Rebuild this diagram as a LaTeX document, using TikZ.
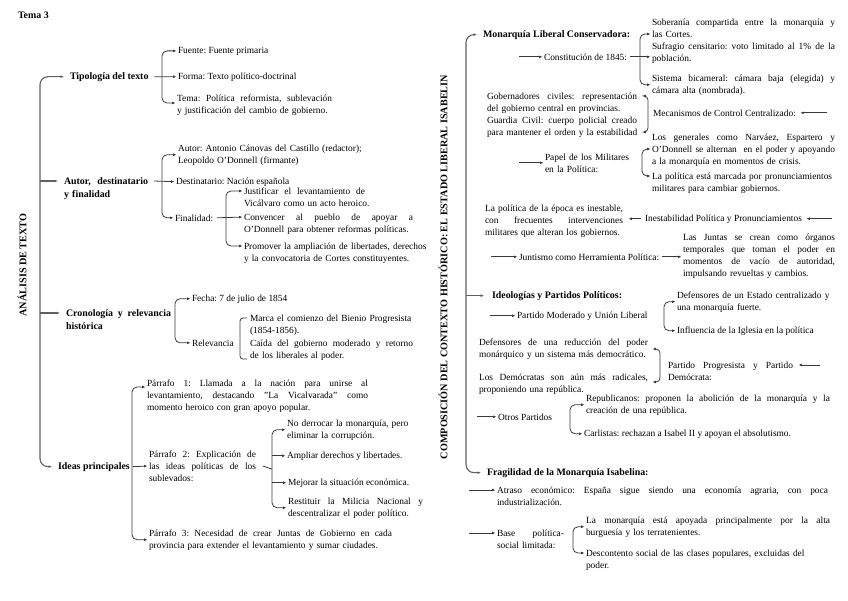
\documentclass[tikz,border=0pt]{standalone}
\usepackage{fontspec}
\setmainfont{Liberation Serif}
\usetikzlibrary{arrows.meta,calc}
\frenchspacing
\newcommand{\fs}{\fontsize{9.4}{12}\selectfont\frenchspacing}
\newcommand{\fb}{\fontsize{9.9}{13}\selectfont\bfseries\frenchspacing}
\newcommand{\fv}{\fontsize{10.2}{13}\selectfont\bfseries}
\newcommand{\jl}[2]{{\spaceskip=0pt\relax\xspaceskip=0pt\relax\makebox[#1pt][s]{#2}}}
\definecolor{linec}{HTML}{3A3A3A}
\definecolor{spinec}{HTML}{606060}
\begin{document}
\begin{tikzpicture}[x=1pt,y=-1pt,
  every node/.style={inner sep=0pt,outer sep=0pt},
  txt/.style={anchor=base west,font=\fs},
  blk/.style={anchor=base west,font=\fs,align=left,text width=#1pt},
  hd/.style={anchor=base west,font=\fb},
  vt/.style={font=\fv,rotate=90},
  ln/.style={draw=linec,line width=0.8pt},
  arr/.style={draw=linec,line width=0.8pt,-{Latex[length=3.4pt,width=2.8pt]},shorten >=1.5pt},
  sp/.style={draw=spinec,line width=1.1pt,-{Latex[length=3.4pt,width=2.8pt]},shorten >=6pt,rounded corners=8pt},
  rc/.style={rounded corners=5pt}]
\fill[white] (0,0) rectangle (848,600);
\useasboundingbox (0,0) rectangle (848,600);

% ---------------- LEFT ----------------
\node[hd] (tema) at (18,18) {Tema 3};
\node[vt] (analisis) at (22,265) {ANÁLISIS DE TEXTO};

\node[hd] (tip) at (70,79) {Tipología del texto};
\node[txt] (fuente) at (178,53) {Fuente: Fuente primaria};
\node[txt] (forma) at (178,79) {Forma: Texto político-doctrinal};
\node[blk=200] (temaT) at (177,101) {\jl{155}{Tema: Política reformista, sublevación}\\y justificación del cambio de gobierno.};

\node[hd,align=left,text width=95pt] (autorH) at (64,184) {\jl{84}{Autor, destinatario}\\y finalidad};
\node[blk=220] (autorA) at (178,151) {Autor: Antonio Cánovas del Castillo (redactor);\\Leopoldo O'Donnell (firmante)};
\node[txt] (dest) at (176,184) {Destinatario: Nación española};
\node[txt] (fin) at (175,221) {Finalidad:};
\node[blk=190] (just) at (244,194) {\jl{121}{Justificar el levantamiento de}\\Vicálvaro como un acto heroico.};
\node[blk=190] (conv) at (244,220) {\jl{169}{Convencer al pueblo de apoyar a}\\O'Donnell para obtener reformas políticas.};
\node[blk=200] (prom) at (244,249) {Promover la ampliación de libertades, derechos\\y la convocatoria de Cortes constituyentes.};

\node[hd,align=left,text width=115pt] (crono) at (66,316) {\jl{105}{Cronología y relevancia}\\histórica};
\node[txt] (fecha) at (192,301) {Fecha: 7 de julio de 1854};
\node[txt] (relev) at (192,346) {Relevancia};
\node[blk=200] (marca) at (250,321) {Marca el comienzo del Bienio Progresista\\(1854-1856).};
\node[blk=200] (caida) at (250,346) {\jl{163}{Caída del gobierno moderado y retorno}\\de los liberales al poder.};

\node[hd] (ideas) at (58,469) {Ideas principales};
\node[blk=260] (p1) at (147,386) {\jl{221}{Párrafo 1: Llamada a la nación para unirse al}\\\jl{221}{levantamiento, destacando "La Vicalvarada" como}\\momento heroico con gran apoyo popular.};
\node[blk=150] (p2) at (149,457) {\jl{107}{Párrafo 2: Explicación de}\\\jl{107}{las ideas políticas de los}\\sublevados:};
\node[blk=280] (p3) at (149,536) {\jl{243}{Párrafo 3: Necesidad de crear Juntas de Gobierno en cada}\\provincia para extender el levantamiento y sumar ciudades.};
\node[blk=170] (nod) at (287,426) {No derrocar la monarquía, pero\\eliminar la corrupción.};
\node[txt] (ampl) at (287,458) {Ampliar derechos y libertades.};
\node[txt] (mejo) at (288,485) {Mejorar la situación económica.};
\node[blk=170] (rest) at (288,504) {\jl{135}{Restituir la Milicia Nacional y}\\descentralizar el poder político.};

% left spine
\coordinate (jL1) at (40,181);
\coordinate (jL2) at (40,313);
\draw[sp] (jL1) |- (tip.west);
\draw[sp] (jL1) |- (ideas.west);
\draw[sp,rounded corners=0pt] (jL1) -- ($(autorH.base west)+(0,-3)$);
\draw[sp,rounded corners=0pt] (jL2) -- ($(crono.base west)+(0,-3)$);

% tipologia bracket
\coordinate (bT) at (162,0);
\draw[arr] ($(tip.east)+(6,0)$) -- (forma.west);
\draw[arr,rc] (bT |- forma.west) |- (fuente.west);
\draw[arr,rc] (bT |- forma.west) |- ($(temaT.base west)+(0,2)$);

% autor bracket
\coordinate (bA) at (162,0);
\draw[arr] ($(autorH.base west)+(90,-3)$) -- (dest.west);
\draw[arr,rc] (bA |- dest.west) |- (autorA.west);
\draw[arr,rc] (bA |- dest.west) |- (fin.west);

% finalidad bracket
\coordinate (bF) at ($(conv.base west)+(-18,-3)$);
\draw[arr] ($(fin.east)+(4,0)$ |- bF) -- ($(conv.base west)+(0,-3)$);
\draw[arr,rc] (bF) |- ($(just.base west)+(0,-3)$);
\draw[arr,rc] (bF) |- ($(prom.base west)+(0,-3)$);

% cronologia bracket
\coordinate (bC) at (175,322);
\draw[arr,rc] (bC) |- (fecha.west);
\draw[arr,rc] (bC) |- (relev.west);
\draw[ln,rounded corners=3pt] ($(marca.base west)+(-3,-3)$) -- ($(marca.base west)+(-10,-3)$) -- ($(caida.base west)+(-10,13)$) -- ($(caida.base west)+(-3,13)$);

% ideas bracket
\coordinate (bI) at (132,0);
\coordinate (p2m) at ($(p2.base west)+(0,9)$);
\draw[arr] ($(ideas.east)+(3,0)$ |- p2m) -- (p2m);
\draw[arr,rc] (bI |- p2m) |- ($(p1.base west)+(0,1)$);
\draw[arr,rc] (bI |- p2m) |- (p3.west);

% parrafo 2 bracket
\coordinate (bP) at (272,469);
\draw[ln] ($(p2.base west)+(114,9)$) -- (bP);
\draw[arr,rc] (bP) |- (nod.west);
\draw[arr,rc] (bP) |- (rest.west);
\draw[arr] (bP |- ampl.west) -- (ampl.west);
\draw[arr] (bP |- mejo.west) -- (mejo.west);

% ---------------- RIGHT ----------------
\node[vt] (compos) at (443,267) {COMPOSICIÓN DEL CONTEXTO HISTÓRICO: EL ESTADO LIBERAL ISABELIN};

\node[hd] (monar) at (483,37) {Monarquía Liberal Conservadora:};
\node[txt] (const) at (544,60) {Constitución de 1845:};
\node[blk=200] (sob) at (652,25) {\jl{183}{Soberanía compartida entre la monarquía y}\\las Cortes.};
\node[blk=200] (suf) at (652,49) {\jl{183}{Sufragio censitario: voto limitado al 1\% de la}\\población.};
\node[blk=200] (sis) at (652,81) {\jl{183}{Sistema bicameral: cámara baja (elegida) y}\\cámara alta (nombrada).};
\node[blk=170] (gob) at (487,99) {\jl{150}{Gobernadores civiles: representación}\\del gobierno central en provincias.};
\node[blk=170] (guar) at (487,123) {\jl{150}{Guardia Civil: cuerpo policial creado}\\para mantener el orden y la estabilidad};
\node[txt] (mecan) at (653,116) {Mecanismos de Control Centralizado:};
\node[blk=200] (gen) at (652,140) {\jl{183}{Los generales como Narváez, Espartero y}\\\jl{183}{O'Donnell se alternan\ \ en el poder y apoyando}\\a la monarquía en momentos de crisis.};
\node[blk=200] (polm) at (652,179) {La política está marcada por pronunciamientos\\militares para cambiar gobiernos.};
\node[blk=100] (papel) at (545,160) {Papel de los Militares\\en la Política:};
\node[blk=160] (pole) at (485,211) {La política de la época es inestable,\\\jl{138}{con frecuentes intervenciones}\\militares que alteran los gobiernos.};
\node[txt] (inest) at (645,221) {Inestabilidad Política y Pronunciamientos};
\node[blk=170] (juntas) at (683,240) {\jl{152}{Las Juntas se crean como órganos}\\\jl{152}{temporales que toman el poder en}\\\jl{152}{momentos de vacío de autoridad,}\\impulsando revueltas y cambios.};
\node[txt] (juntis) at (519,260) {Juntismo como Herramienta Política:};
\node[hd] (ideol) at (492,298) {Ideologías y Partidos Políticos:};
\node[txt] (pmod) at (517,318) {Partido Moderado y Unión Liberal};
\node[blk=170] (defe) at (677,298) {Defensores de un Estado centralizado y\\una monarquía fuerte.};
\node[txt] (igle) at (677,333) {Influencia de la Iglesia en la política};
\node[blk=190] (dred) at (479,345) {\jl{169}{Defensores de una reducción del poder}\\monárquico y un sistema más democrático.};
\node[blk=190] (ldem) at (479,380) {\jl{169}{Los Demócratas son aún más radicales,}\\proponiendo una república.};
\node[blk=140] (pprog) at (668,368) {\jl{125}{Partido Progresista y Partido}\\Demócrata:};
\node[txt] (otros) at (498,420) {Otros Partidos};
\node[blk=260] (repu) at (586,401) {\jl{244}{Republicanos: proponen la abolición de la monarquía y la}\\creación de una república.};
\node[txt] (carl) at (584,436) {Carlistas: rechazan a Isabel II y apoyan el absolutismo.};
\node[hd] (frag) at (487,475) {Fragilidad de la Monarquía Isabelina:};
\node[blk=360] (atraso) at (497,493) {\jl{331}{Atraso económico: España sigue siendo una economía agraria, con poca}\\industrialización.};
\node[blk=90] (base) at (497,536) {\jl{67}{Base política-}\\social limitada:};
\node[blk=260] (lamon) at (586,523) {\jl{244}{La monarquía está apoyada principalmente por la alta}\\burguesía y los terratenientes.};
\node[blk=260] (desc) at (586,556) {Descontento social de las clases populares, excluidas del\\poder.};

% right spine
\coordinate (sR) at (466,295);
\draw[sp] (sR) |- (monar.west);
\draw[sp] (sR) |- (frag.west);
\draw[sp,rounded corners=0pt,shorten >=8pt] (sR |- ideol.west) -- (ideol.west);

% constitucion
\coordinate (cA) at (519,0);
\draw[arr] (cA |- const.west) -- (const.west);
\coordinate (bK) at (640,0);
\draw[arr] ($(const.east)+(3,0)$) -- (suf.west |- const.east);
\draw[arr,rc] (bK |- const.east) |- ($(sob.base west)+(0,9)$);
\draw[arr,rc] (bK |- const.east) |- (sis.west);

% gobernadores / guardia
\coordinate (bG) at (648,114);
\draw[arr,rounded corners=4pt] (bG) |- ($(gob.base west)+(154,-3)$);
\draw[arr,rounded corners=4pt] (bG) |- ($(guar.base west)+(154,9)$);
\coordinate (mA) at (827,0);
\draw[arr] (mA |- mecan.east) -- ($(mecan.east)+(3,0)$);

% militares
\coordinate (pA) at (519,0);
\draw[arr] (pA |- papel.west) -- (papel.west);
\coordinate (bM) at (642,163);
\draw[arr,rc] (bM) |- ($(gen.base west)+(0,9)$);
\draw[arr,rc] (bM) |- ($(polm.base west)+(0,-3)$);

% inestabilidad
\coordinate (pe) at ($(pole.base west)+(142,9)$);
\draw[arr] ($(inest.west)+(-4,0)$) -- (pe |- inest.west);
\coordinate (iA) at (832,0);
\draw[arr] (iA |- inest.east) -- ($(inest.east)+(3,0)$);

% juntismo
\coordinate (jA) at (491,0);
\draw[arr] (jA |- juntis.west) -- (juntis.west);
\draw[arr] ($(juntis.east)+(3,0)$) -- (juntas.west |- juntis.east);

% moderados
\coordinate (mdA) at (490,0);
\draw[arr] (mdA |- pmod.west) -- (pmod.west);
\coordinate (bD) at (664,0);
\draw[arr,rc] (bD |- pmod.west) |- (defe.west);
\draw[arr,rc] (bD |- pmod.west) |- (igle.west);

% progresistas
\coordinate (bR) at (660,366);
\draw[arr,rounded corners=4pt] (bR) |- ($(dred.base west)+(172,4)$);
\draw[arr,rounded corners=4pt] (bR) |- ($(ldem.base west)+(172,2)$);
\coordinate (pp1) at ($(pprog.base west)+(129,-3)$);
\coordinate (ppA) at (820,0);
\draw[arr] (ppA |- pp1) -- (pp1);

% otros partidos
\coordinate (oA) at (477,0);
\draw[arr] (oA |- otros.west) -- (otros.west);
\coordinate (bO) at (570,418);
\draw[arr,rc] (bO) |- (repu.west);
\draw[arr,rc] (bO) |- (carl.west);

% fragilidad
\coordinate (a1) at ($(atraso.base west)+(0,-3)$);
\coordinate (b1) at ($(base.base west)+(0,-3)$);
\coordinate (aA) at (469,0);
\draw[arr] (aA |- a1) -- (a1);
\draw[arr] (aA |- b1) -- (b1);
\coordinate (bB) at (573,0);
\draw[arr,rc] (bB |- base.west) |- (lamon.west);
\draw[arr,rc] (bB |- base.west) |- ($(desc.base west)+(0,-3)$);
\end{tikzpicture}
\end{document}
